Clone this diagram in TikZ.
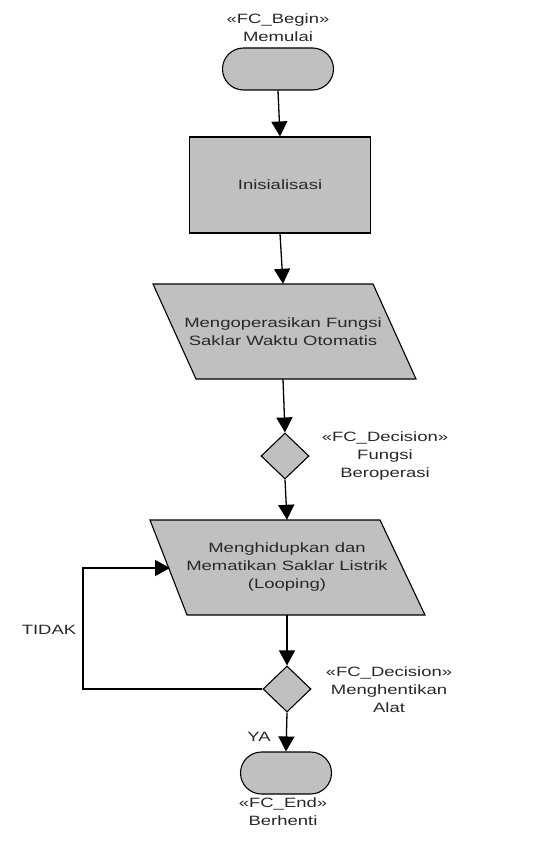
\documentclass[tikz,border=0pt]{standalone}
\usepackage{fontspec}
\setmainfont{Liberation Sans}[FakeStretch=1.37]
\usetikzlibrary{shapes.geometric,arrows.meta}
\definecolor{shapefill}{RGB}{192,192,192}
\definecolor{txt}{RGB}{40,40,40}
\tikzset{
  base/.style={draw=black, line width=1.1pt, fill=shapefill, text=txt, align=center, inner sep=0pt},
  term/.style={base, rectangle, rounded corners=21pt, minimum height=42pt},
  procbox/.style={base, rectangle, minimum width=181pt, minimum height=96pt},
  iotext/.style={align=center, text=txt, inner sep=0pt, minimum height=95pt},
  decide/.style={base, diamond, minimum width=48pt, minimum height=46pt},
  lbl/.style={align=center, text=txt, inner sep=0pt},
  flow/.style={line width=1.3pt, -{Triangle[width=16pt,length=15pt]}}
}
\begin{document}
\begin{tikzpicture}[x=1pt,y=-1pt,font=\fontsize{13.5}{18}\selectfont]
\useasboundingbox (0,0) rectangle (548,843);
% parallelogram outlines
\draw[base] (153,284) -- (373,284) -- (416,379) -- (196,379) -- cycle;
\draw[base] (150,520) -- (380,520) -- (425,615) -- (187,615) -- cycle;
\node[term, minimum width=111pt] (begin) at (278,69) {};
\node[lbl] (beginlbl) at (278,28) {«FC\_Begin»\\Memulai};
\node[procbox] (init) at (280,185) {Inisialisasi};
\node[iotext, minimum width=220pt] (p1) at (283,331.5) {Mengoperasikan Fungsi\\Saklar Waktu Otomatis};
\node[decide] (d1) at (285,456) {};
\node[lbl] (d1lbl) at (385,456) {«FC\_Decision»\\Fungsi\\Beroperasi};
\node[iotext, minimum width=234pt] (p2) at (287,567.5) {Menghidupkan dan\\Mematikan Saklar Listrik\\(Looping)};
\node[decide] (d2) at (287,689) {};
\node[lbl] (d2lbl) at (389,690) {«FC\_Decision»\\Menghentikan\\Alat};
\node[term, minimum width=91pt] (end) at (286,773) {};
\node[lbl] (endlbl) at (283,812) {«FC\_End»\\Berhenti};
\node[lbl] (tidak) at (49,630) {TIDAK};
\node[lbl] (ya) at (259,737) {YA};
\coordinate (loopcorner) at (83,689);
\coordinate (loopend) at (170,568);
\draw[flow] (begin.south) -- (init.north);
\draw[flow] (init.south) -- (p1.north);
\draw[flow] (p1.south) -- (d1.north);
\draw[flow] (d1.south) -- (p2.north);
\draw[flow] (p2.south) -- (d2.north);
\draw[flow] (d2.south) -- (end.north);
\draw[flow] (d2.west) -- (loopcorner) |- (loopend);
\end{tikzpicture}
\end{document}
